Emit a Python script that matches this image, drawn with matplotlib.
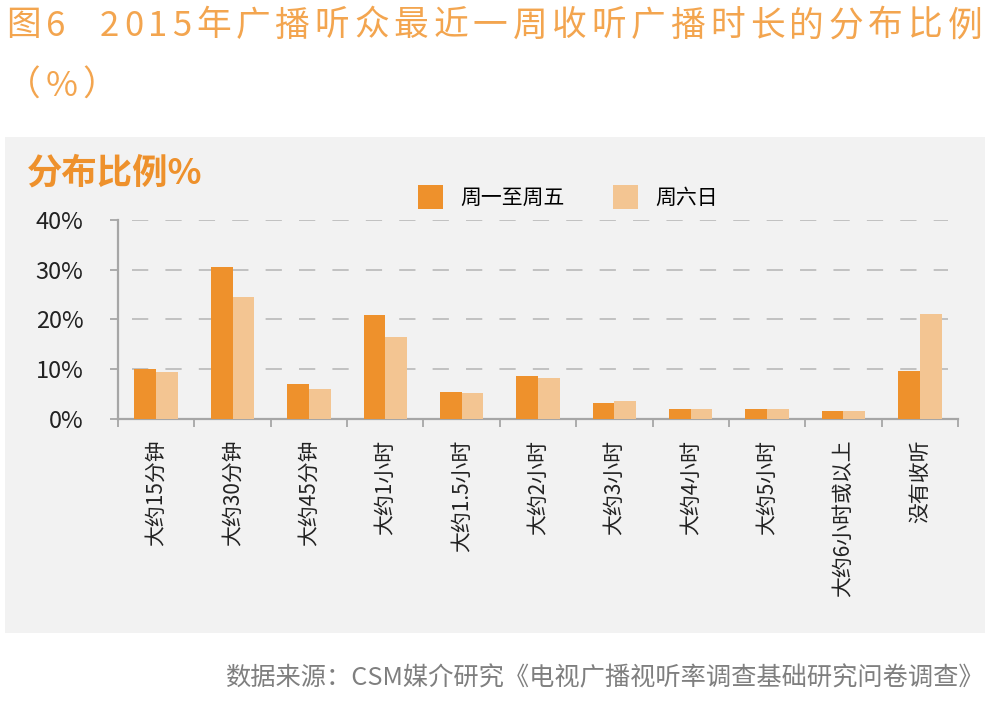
import matplotlib
matplotlib.use('Agg')
import matplotlib.pyplot as plt
import numpy as np
from matplotlib.patches import Rectangle, Patch

plt.rcParams['font.family'] = ['Noto Sans CJK SC', 'DejaVu Sans']

categories = ['大约15分钟', '大约30分钟', '大约45分钟', '大约1小时', '大约1.5小时',
              '大约2小时', '大约3小时', '大约4小时', '大约5小时', '大约6小时或以上', '没有收听']
weekday = [10.0, 30.5, 7.0, 20.9, 5.4, 8.7, 3.3, 2.1, 2.1, 1.7, 9.7]
weekend = [9.5, 24.5, 6.0, 16.5, 5.2, 8.3, 3.7, 2.1, 2.1, 1.6, 21.1]
yticks = [0, 10, 20, 30, 40]
series_names = ['周一至周五', '周六日']

c_dark = '#EE912C'
c_light = '#F3C592'
axis_gray = '#A6A6A6'
W, H = 993, 702

fig = plt.figure(figsize=(9.93, 7.02), dpi=100)
fig.patch.set_facecolor('white')

# 灰色背景面板
fig.patches.append(Rectangle((5/W, 1-633/H), 980/W, 496/H,
                             transform=fig.transFigure, facecolor='#F2F2F2',
                             edgecolor='none', zorder=-5))

ax = fig.add_axes([118/W, 1-419/H, 840/W, 199/H])
ax.set_facecolor('none')
ax.set_zorder(2)

x = np.arange(len(categories))
w = 0.284
ax.bar(x - w/2, weekday, width=w, color=c_dark, zorder=3)
ax.bar(x + w/2, weekend, width=w, color=c_light, zorder=3)

ax.set_xlim(-0.5, len(categories) - 0.5)
ax.set_ylim(0, 40)

# 虚线网格
for v in yticks[1:]:
    ax.axhline(v, xmin=0.017, xmax=0.988, color='#BDBDBD', lw=1.3,
               dashes=(9, 9.5), zorder=1)

for s in ['top', 'right']:
    ax.spines[s].set_visible(False)
for s in ['left', 'bottom']:
    ax.spines[s].set_color(axis_gray)
    ax.spines[s].set_linewidth(1.6)

ax.set_yticks(yticks)
ax.set_yticklabels([f'{v}%' for v in yticks], fontsize=17, color='#222222')
ax.tick_params(axis='y', length=6, width=1.3, color=axis_gray, pad=19)

ax.set_xticks(x)
ax.set_xticklabels(categories, rotation=90, fontsize=15, color='#222222', va='top')
ax.tick_params(axis='x', which='major', length=0, pad=15)
ax.set_xticks(np.arange(-0.5, len(categories)), minor=True)
ax.tick_params(axis='x', which='minor', length=6, width=1.3, color=axis_gray)

# 面板标题
fig.text(27/W, 1-173/H, '分布比例%', fontsize=25.5, fontweight='bold',
         color=c_dark, va='center', ha='left')

handles = [Patch(facecolor=c_dark), Patch(facecolor=c_light)]
fig.legend(handles, series_names, loc='center left',
           bbox_to_anchor=(418/W, 1-197/H), ncol=2, frameon=False,
           fontsize=15, handlelength=1.2, handleheight=1.35,
           handletextpad=0.85, columnspacing=2.3, borderpad=0, borderaxespad=0)


def spaced_text(x0, y0, s, gap, **kw):
    # 逐字放置，模拟字间距
    r = fig.canvas.get_renderer()
    xp = x0
    for ch in s:
        if ch == ' ':
            xp += 15
            continue
        t = fig.text(xp/W, 1-y0/H, ch, va='center', ha='left', **kw)
        xp += t.get_window_extent(renderer=r).width + gap


# 大标题
title_color = '#F3A54F'
spaced_text(6, 26, '图6  2015年广播听众最近一周收听广播时长的分布比例', 4.8,
            fontsize=25, color=title_color, fontweight='light')
spaced_text(6, 86, '（%）', 4.8, fontsize=25, color=title_color, fontweight='light')

# 数据来源
fig.text(984/W, 1-678/H, '数据来源：CSM媒介研究《电视广播视听率调查基础研究问卷调查》',
         fontsize=18.2, color='#7F7F7F', va='center', ha='right', fontweight='light')

fig.savefig('out.png', dpi=100, facecolor='white')
